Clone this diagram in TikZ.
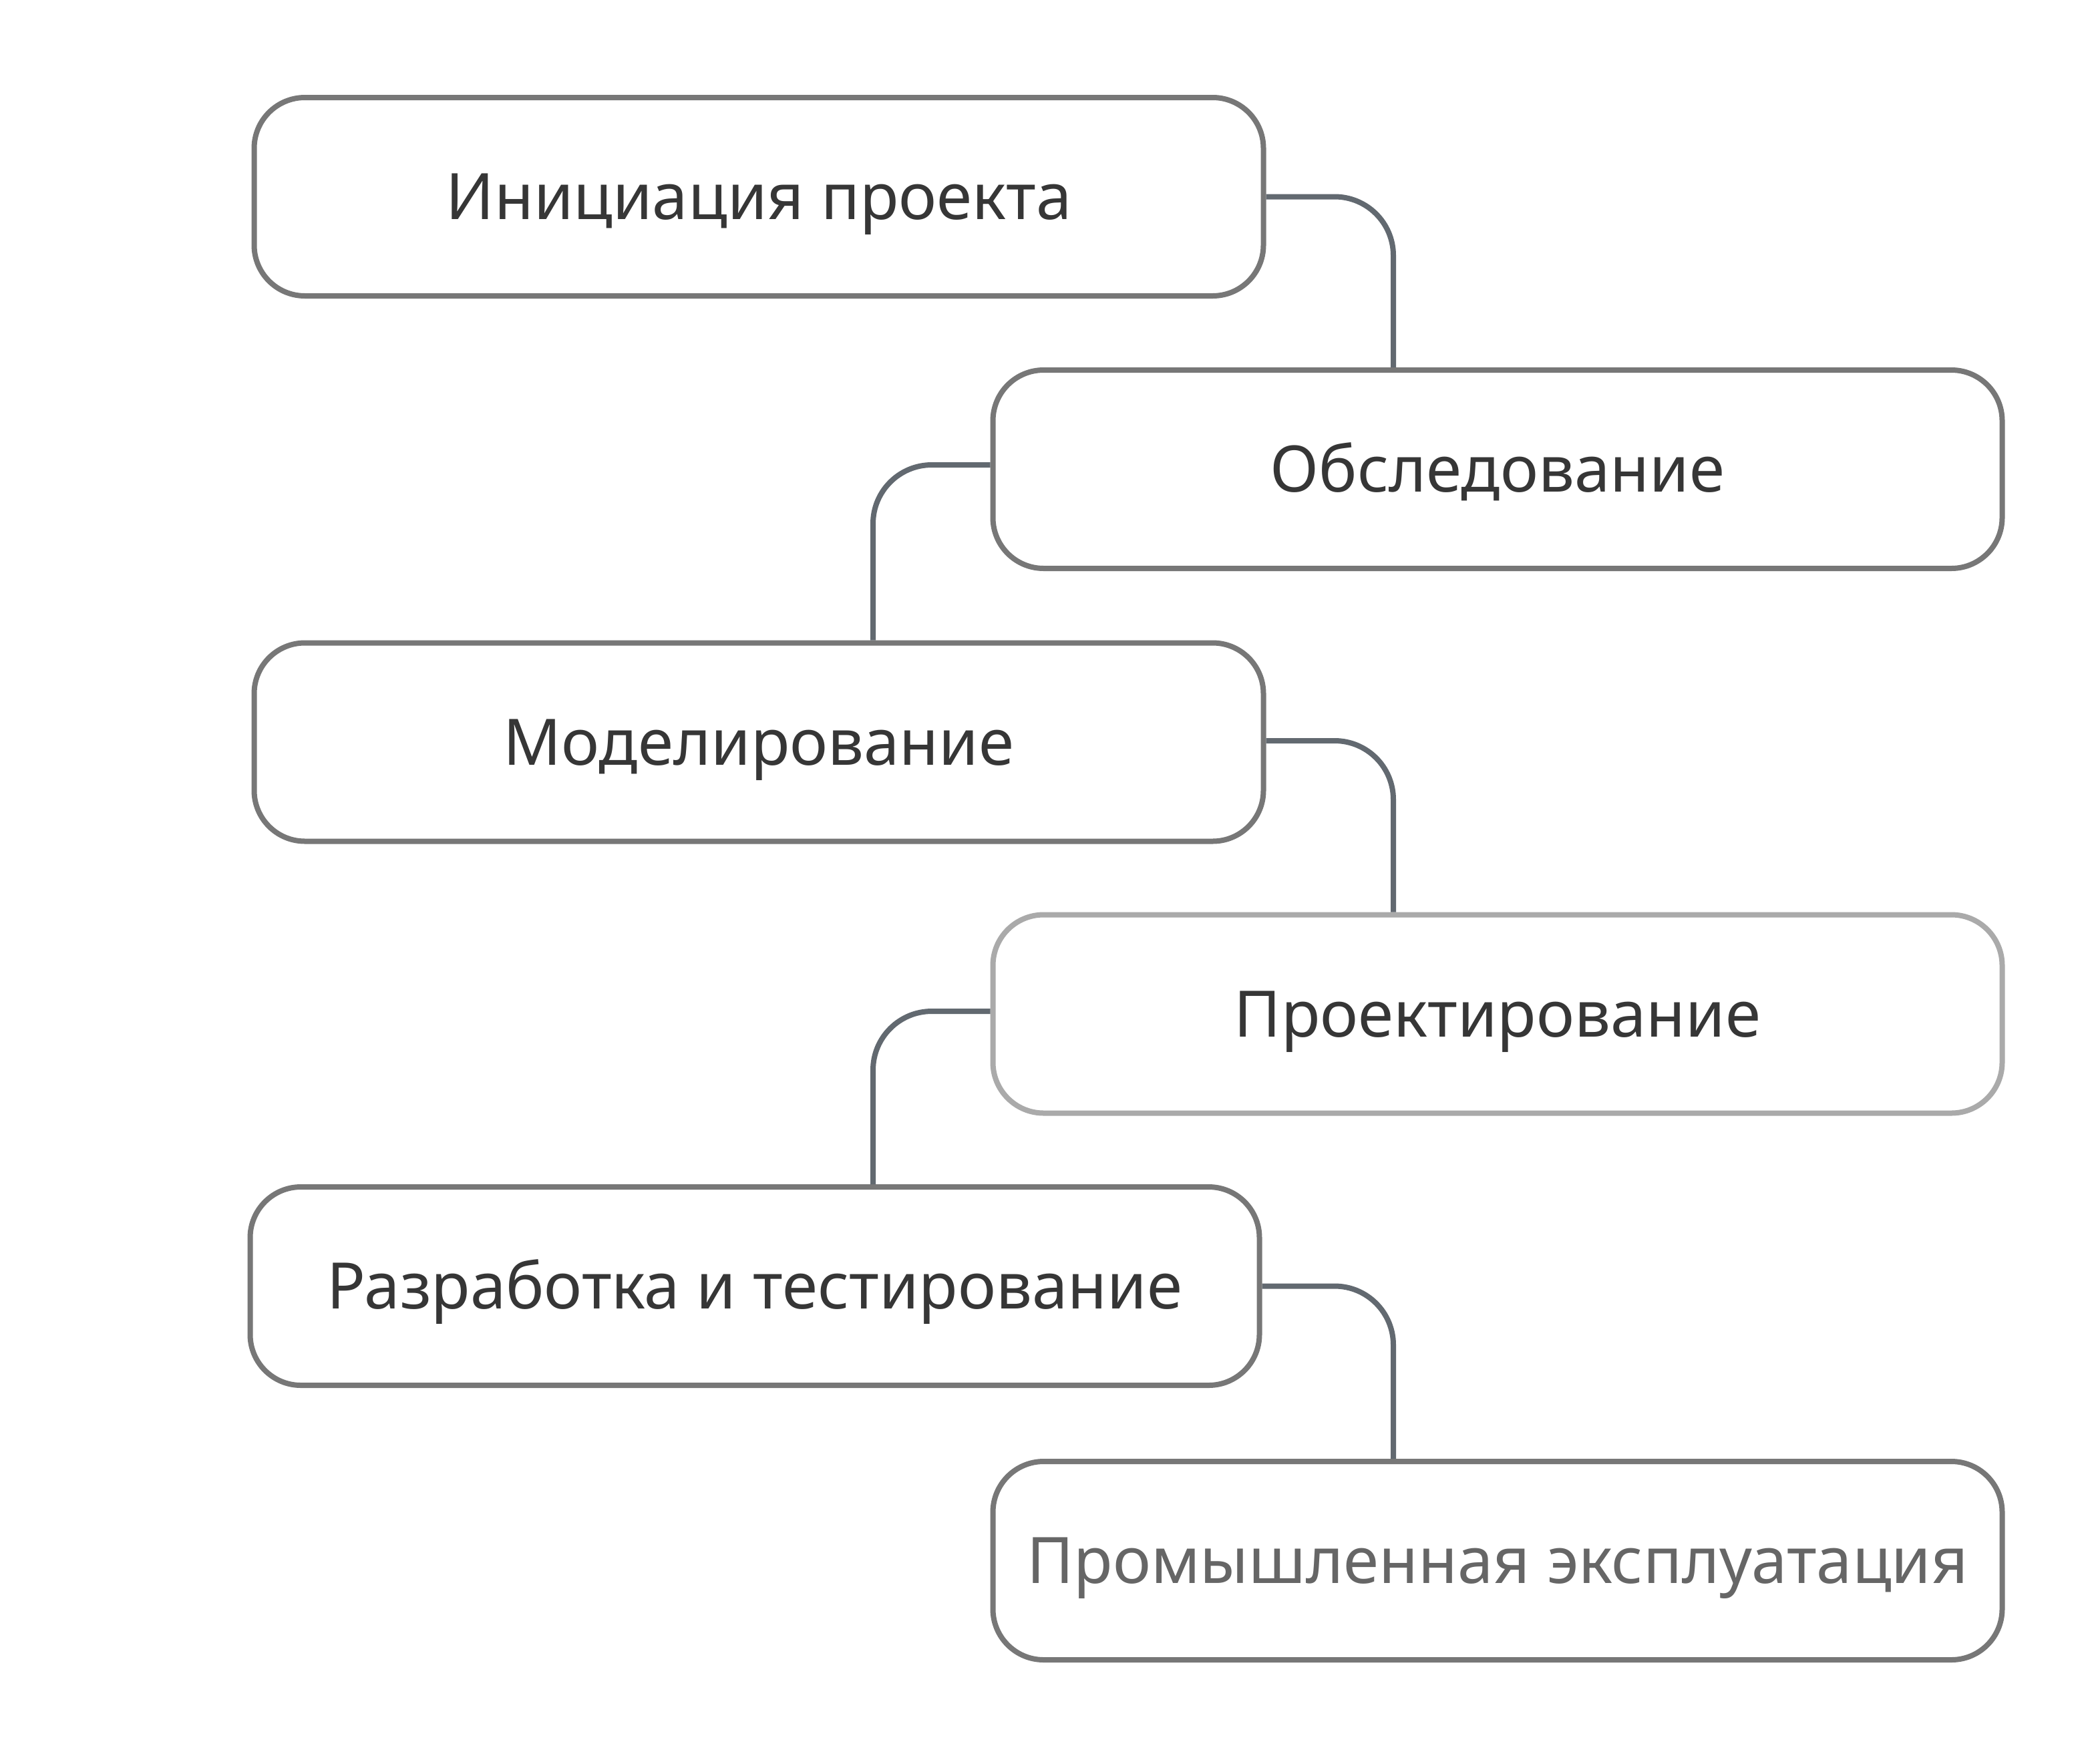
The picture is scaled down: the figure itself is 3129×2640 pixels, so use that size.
\documentclass[tikz,border=0pt]{standalone}
\usepackage{fontspec}
\setmainfont{Noto Sans}
\definecolor{boxgray}{HTML}{777777}
\definecolor{boxlight}{HTML}{AAAAAA}
\definecolor{linegray}{HTML}{626970}
\definecolor{txt}{HTML}{363636}
\definecolor{txtlight}{HTML}{666666}
\begin{document}
\begin{tikzpicture}[x=1pt,y=-1pt,
  stage/.style={draw=boxgray, line width=8pt, rounded corners=76pt, fill=white,
    minimum width=1511pt, minimum height=297pt, inner sep=0pt,
    text height=68pt, text depth=0pt,
    text=txt, font=\fontsize{96}{115}\selectfont},
  link/.style={draw=linegray, line width=8pt, rounded corners=88pt}]
\useasboundingbox (0,0) rectangle (3129,2640);
\node[stage] (b1) at (1136,294.5) {Инициация проекта};
\node[stage] (b2) at (2242,702.5) {Обследование};
\node[stage] (b3) at (1136,1111) {Моделирование};
\node[stage, draw=boxlight] (b4) at (2242,1518) {Проектирование};
\node[stage] (b5) at (1130,1925.5) {Разработка и тестирование};
\node[stage, text=txtlight] (b6) at (2242,2336.5) {Промышленная эксплуатация};
\coordinate (xr) at (2086,0);
\coordinate (xl) at (1307,0);
\draw[link] (b1.east) -| (b2.north -| xr);
\draw[link] ([yshift=6.5pt]b2.west) -| (b3.north -| xl);
\draw[link] ([yshift=2pt]b3.east) -| (b4.north -| xr);
\draw[link] ([yshift=4pt]b4.west) -| (b5.north -| xl);
\draw[link] ([yshift=0pt]b5.east) -| (b6.north -| xr);
\end{tikzpicture}
\end{document}
